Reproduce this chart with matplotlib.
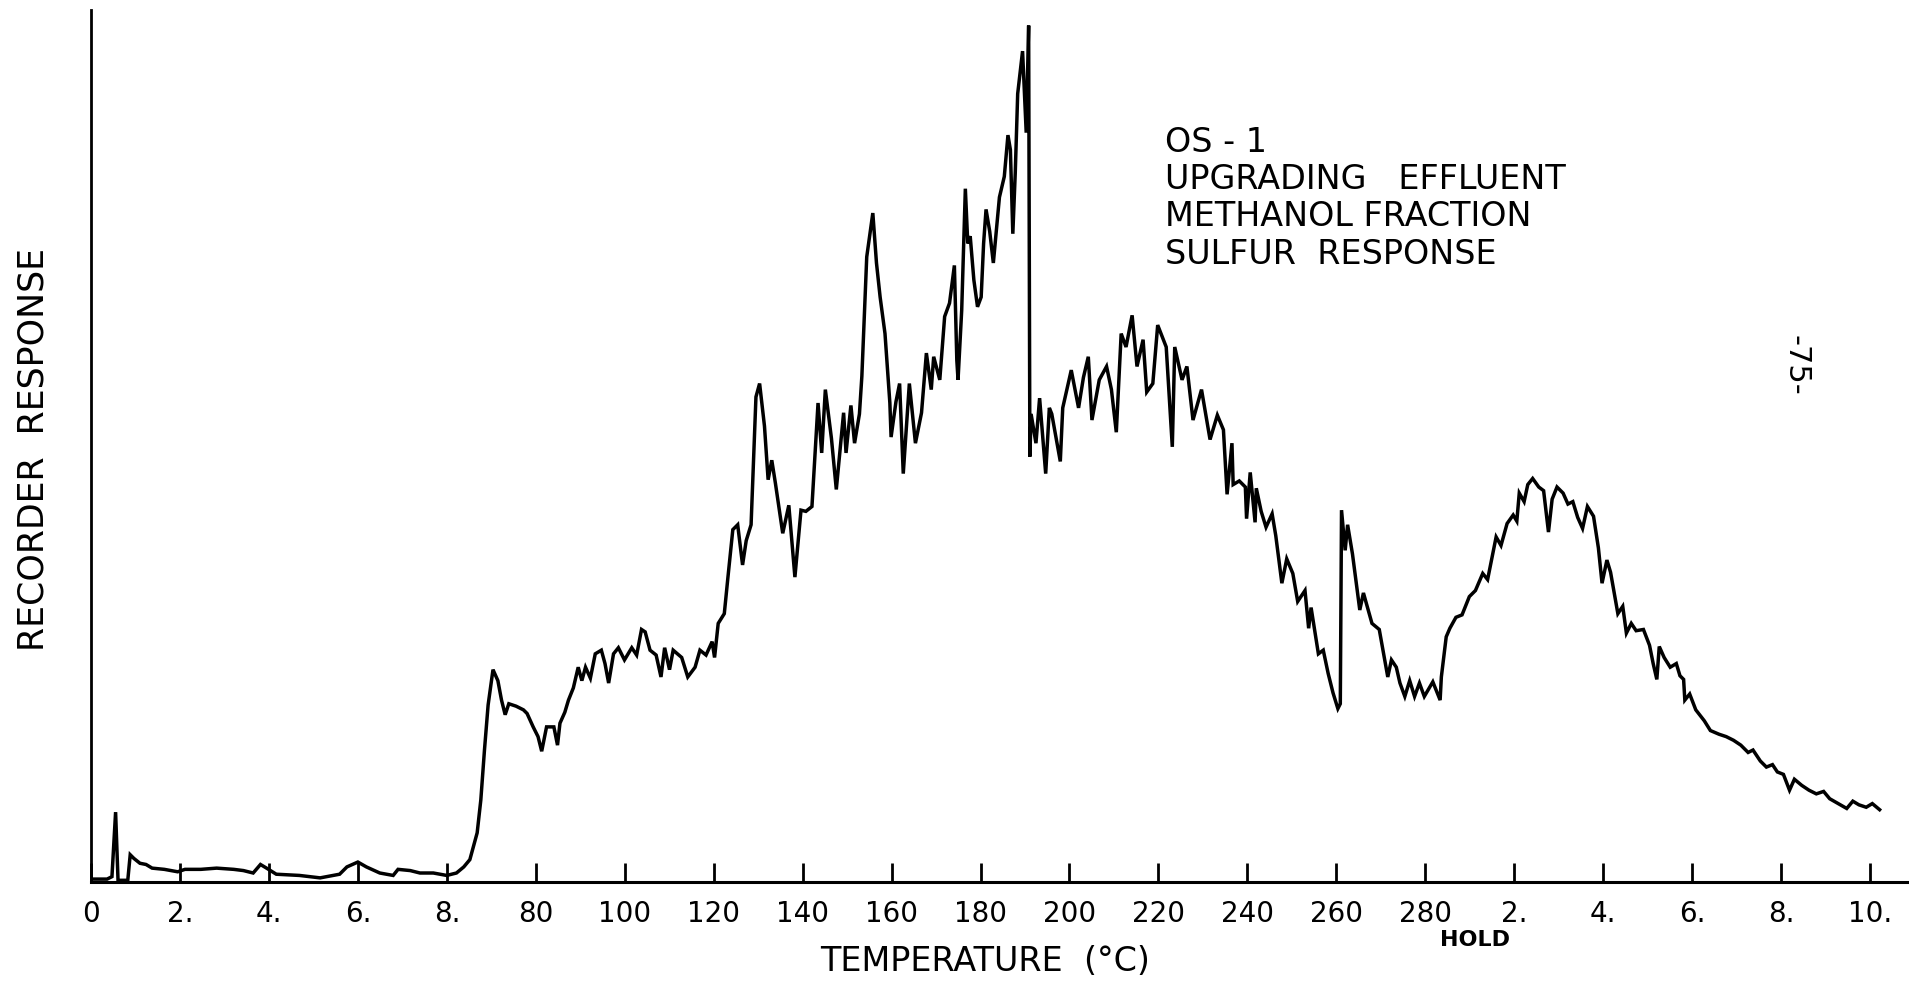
import numpy as np
import matplotlib.pyplot as plt
from matplotlib.transforms import blended_transform_factory

# pen trace: distance along the paper and pen height
trace_x = [0, 13, 17, 20, 22, 30, 32, 35, 40, 45, 50, 60, 71, 77, 90, 103, 117, 125, 133, 139,
           144, 152, 171, 188, 204, 210, 219, 226, 237, 248, 252, 262, 270, 281, 292, 300, 306, 311, 317, 320,
           323, 326, 330, 334, 337, 340, 343, 349, 355, 358, 363, 367, 370, 374, 380, 383, 385, 389, 392, 396,
           400, 403, 406, 410, 414, 419, 422, 425, 429, 433, 438, 444, 448, 452, 455, 459, 464, 468, 471, 475,
           478, 485, 490, 496, 500, 505, 510, 512, 515, 520, 523, 527, 531, 535, 538, 542, 546, 549, 553, 556,
           559, 562, 568, 573, 578, 583, 587, 592, 597, 600, 603, 608, 612, 618, 620, 624, 627, 631, 633, 637,
           642, 645, 648, 652, 656, 657, 661, 664, 667, 670, 672, 677, 682, 686, 690, 692, 697, 701, 705, 709,
           711, 712, 715, 718, 720, 722, 725, 728, 731, 733, 735, 738, 741, 746, 750, 753, 755, 757, 759, 761,
           765, 768, 770, 771, 772, 776, 779, 784, 787, 789, 796, 798, 805, 811, 815, 819, 822, 828, 834, 838,
           842, 846, 850, 855, 859, 864, 867, 872, 876, 883, 888, 890, 896, 900, 905, 912, 919, 925, 930, 933,
           937, 938, 943, 948, 949, 952, 956, 957, 961, 965, 970, 973, 978, 982, 987, 991, 997, 1000, 1002, 1008,
           1012, 1016, 1020, 1024, 1026, 1027, 1030, 1032, 1036, 1042, 1045, 1052, 1058, 1065, 1068, 1072, 1075, 1079, 1083, 1087,
           1091, 1095, 1102, 1108, 1109, 1113, 1116, 1121, 1126, 1132, 1137, 1143, 1147, 1154, 1158, 1163, 1168, 1171, 1173, 1177,
           1180, 1184, 1189, 1193, 1197, 1200, 1204, 1209, 1213, 1217, 1221, 1225, 1229, 1234, 1238, 1241, 1245, 1248, 1254, 1258,
           1261, 1265, 1269, 1275, 1280, 1283, 1286, 1288, 1292, 1297, 1302, 1305, 1308, 1309, 1313, 1318, 1325, 1330, 1337, 1343,
           1349, 1355, 1361, 1365, 1371, 1376, 1381, 1385, 1390, 1395, 1399, 1405, 1411, 1417, 1423, 1428, 1435, 1442, 1447, 1452,
           1458, 1463, 1469]
trace_y = [2, 2, 4, 57, 1, 1, 22, 19, 15, 14, 11, 10, 8, 10, 10, 11, 10, 9, 7, 14,
           11, 6, 5, 3, 6, 12, 16, 12, 7, 5, 10, 9, 7, 7, 5, 7, 12, 18, 40, 67,
           108, 145, 174, 165, 149, 137, 146, 144, 141, 138, 127, 119, 107, 127, 127, 112, 130, 139, 149, 159,
           176, 165, 176, 167, 187, 190, 179, 163, 187, 192, 182, 192, 186, 207, 205, 190, 186, 168, 192, 174,
           190, 184, 168, 176, 190, 186, 197, 184, 212, 220, 250, 289, 293, 260, 280, 293, 398, 409, 374, 330,
           346, 327, 286, 309, 250, 305, 304, 308, 393, 352, 404, 364, 322, 385, 352, 391, 360, 384, 415, 513,
           549, 508, 480, 450, 393, 365, 394, 409, 335, 379, 409, 360, 385, 434, 404, 431, 412, 464, 475, 506,
           428, 412, 469, 569, 524, 530, 494, 472, 480, 524, 552, 534, 508, 562, 579, 613, 601, 532, 582, 647,
           682, 615, 703, 349, 384, 360, 397, 335, 389, 384, 345, 389, 420, 389, 414, 431, 379, 412, 423, 404,
           369, 450, 439, 465, 423, 445, 402, 409, 457, 439, 357, 439, 412, 423, 379, 404, 363, 383, 371, 318,
           360, 326, 329, 324, 298, 336, 295, 323, 304, 291, 302, 284, 245, 265, 253, 230, 239, 208, 225, 187,
           190, 171, 155, 142, 146, 305, 272, 293, 269, 223, 237, 212, 207, 168, 182, 176, 163, 152, 165, 152,
           163, 152, 164, 149, 168, 201, 208, 217, 219, 234, 239, 253, 248, 283, 276, 294, 301, 296, 319, 312,
           326, 331, 324, 321, 287, 314, 324, 319, 310, 312, 299, 290, 308, 300, 274, 245, 264, 254, 220, 226,
           204, 212, 206, 207, 194, 179, 166, 193, 184, 176, 179, 169, 166, 149, 154, 141, 132, 124, 121, 119,
           116, 112, 106, 108, 99, 94, 96, 90, 88, 75, 84, 79, 75, 72, 74, 68, 64, 60, 66, 63,
           61, 64, 59]

tick_labels = ['0', '2.', '4.', '6.', '8.', '80', '100', '120', '140', '160', '180',
               '200', '220', '240', '260', '280', '2.', '4.', '6.', '8.', '10.']
title_lines = ['OS - 1', 'UPGRADING   EFFLUENT', 'METHANOL FRACTION', 'SULFUR  RESPONSE']

DIV = 73.05  # paper distance of one chart division

fig = plt.figure(figsize=(19.09, 9.81), dpi=100)
ax = fig.add_axes([0.0478, 0.1014, 0.9522, 0.8887])

ax.plot(trace_x, trace_y, color='black', lw=2.5, solid_joinstyle='miter')

ax.set_xlim(0, 20.44 * DIV)
ax.set_ylim(0, 716)

ax.spines['top'].set_visible(False)
ax.spines['right'].set_visible(False)
ax.spines['left'].set_linewidth(2)
ax.spines['bottom'].set_linewidth(2.2)

ax.set_xticks(np.arange(len(tick_labels)) * DIV)
ax.set_xticklabels(tick_labels, family=['Liberation Sans Narrow', 'DejaVu Sans'], fontsize=20)
ax.tick_params(axis='x', direction='in', length=14, width=2, pad=13)
ax.set_yticks([])

fig.text(0.0173, 0.5413, 'RECORDER  RESPONSE', rotation=90, ha='center', va='center',
         family='DejaVu Sans', fontsize=25)
fig.text(0.516, 0.0194, 'TEMPERATURE  (°C)', ha='center', va='center',
         family='DejaVu Sans', fontsize=24)

trans = blended_transform_factory(ax.transData, fig.transFigure)
ax.text(1137, 0.0418, 'HOLD', transform=trans, ha='center', va='center',
        family=['Liberation Sans Narrow', 'DejaVu Sans'], fontsize=16, fontweight='bold')

fig.text(0.6103, 0.872, '\n'.join(title_lines), ha='left', va='top',
         family='DejaVu Sans', fontsize=24, linespacing=1.17)
fig.text(0.9408, 0.628, '-75-', rotation=-90, ha='center', va='center',
         family='DejaVu Sans', fontsize=22)

fig.savefig('out.png', dpi=100)
